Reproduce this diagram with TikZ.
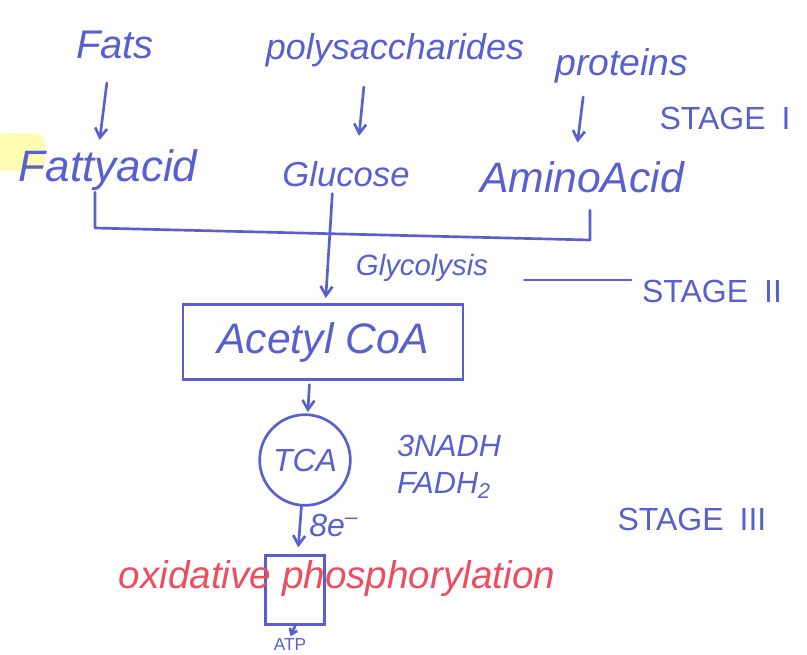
\documentclass[tikz,border=0pt]{standalone}
\usepackage{fontspec}
\setmainfont{Liberation Sans}
\usepackage{tikz}
\usetikzlibrary{arrows.meta}
\definecolor{ink}{RGB}{88,96,208}
\definecolor{redink}{RGB}{236,78,96}
\begin{document}
\begin{tikzpicture}[x=0.75pt,y=-0.75pt]
\tikzstyle{every node}+=[inner sep=1pt]
\tikzstyle{hand}=[text=ink,font=\itshape]
\tikzstyle{pen}=[draw=ink,line width=2pt,line cap=round,line join=round]
\tikzstyle{penarrow}=[pen,-{Straight Barb[length=7pt,width=9pt]},shorten <=4pt,shorten >=4pt]
\useasboundingbox (0,0) rectangle (807,654);
\fill [yellow!30,rounded corners=8pt] (-8,133) rectangle (45,171);
\node [hand,font=\itshape\fontsize{30}{32}\selectfont] (fats) at (115,45) {Fats};
\node [hand,font=\itshape\fontsize{27}{30}\selectfont] (polysac) at (395,50) {polysaccharides};
\node [hand,font=\itshape\fontsize{28}{30}\selectfont] (proteins) at (622,66) {proteins};
\node [hand,font=\itshape\fontsize{33}{35}\selectfont] (fattyacid) at (108,170) {Fattyacid};
\node [hand,font=\itshape\fontsize{26}{28}\selectfont] (glucose) at (346,174) {Glucose};
\node [hand,font=\itshape\fontsize{32}{34}\selectfont] (aminoacid) at (582,177) {AminoAcid};
\node [hand,font=\fontsize{24}{26}\selectfont] (stage1) at (725,118) {STAGE\enspace I};
\draw [penarrow,shorten <=17pt,shorten >=6pt] ([xshift=-4pt]fats.south) -- ([xshift=-7pt]fattyacid.north);
\draw [penarrow,shorten <=14pt,shorten >=18pt] ([xshift=-22pt]polysac.south) -- ([xshift=8pt]glucose.north);
\draw [penarrow,shorten <=9pt,shorten >=13pt] ([xshift=-28pt]proteins.south) -- ([xshift=-5pt]aminoacid.north);
\coordinate (brl) at (95,228);
\coordinate (brr) at (590,240);
\draw [pen] (fattyacid.south -| brl) -- (brl) -- (brr) -- ([yshift=-12pt]aminoacid.south -| brr);
\node [hand,draw=ink,line width=2pt,minimum width=210pt,minimum height=56pt,font=\itshape\fontsize{32}{34}\selectfont] (acetyl) at (323,342) {Acetyl CoA};
\draw [penarrow] ([xshift=-10pt]glucose.south) -- (acetyl);
\node [hand,font=\itshape\fontsize{22}{24}\selectfont] (glycolysis) at (422,268) {Glycolysis};
\node [hand,font=\fontsize{24}{26}\selectfont] (stage2) at (712,291) {STAGE\enspace II};
\draw [pen,shorten <=26pt,shorten >=7pt] ([yshift=-9pt]glycolysis.east) -- ([yshift=-9pt]glycolysis.east -| stage2.west);
\node [hand,draw=ink,line width=2pt,circle,minimum size=68pt,font=\itshape\fontsize{24}{26}\selectfont] (tca) at (305,460) {TCA};
\draw [penarrow,shorten <=3pt,shorten >=1pt] ([xshift=-10pt]acetyl.south) -- (tca);
\node [hand,align=left,font=\itshape\fontsize{23}{28}\selectfont] (nadh) at (449,467) {3NADH\\FADH\textsubscript{2}};
\node [hand,font=\fontsize{24}{26}\selectfont] (stage3) at (692,519) {STAGE\enspace III};
\node [draw=ink,line width=2pt,minimum width=44pt,minimum height=52pt] (oxbox) at (295,590) {};
\draw [penarrow,shorten <=0pt,shorten >=5pt] (tca) -- node [hand,right=5pt,pos=0.4,font=\itshape\fontsize{24}{26}\selectfont] (electrons) {8e\textsuperscript{--}} (oxbox);
\node [text=redink,font=\itshape\fontsize{29}{31}\selectfont] (oxphos) at (337,578) {oxidative phosphorylation};
\node [hand,font=\fontsize{13}{15}\selectfont] (atp) at (290,645) {ATP};
\draw [pen,-{Straight Barb[length=4pt,width=6pt]},shorten >=1pt] (oxbox.south) -- (atp.north);
\end{tikzpicture}
\end{document}
